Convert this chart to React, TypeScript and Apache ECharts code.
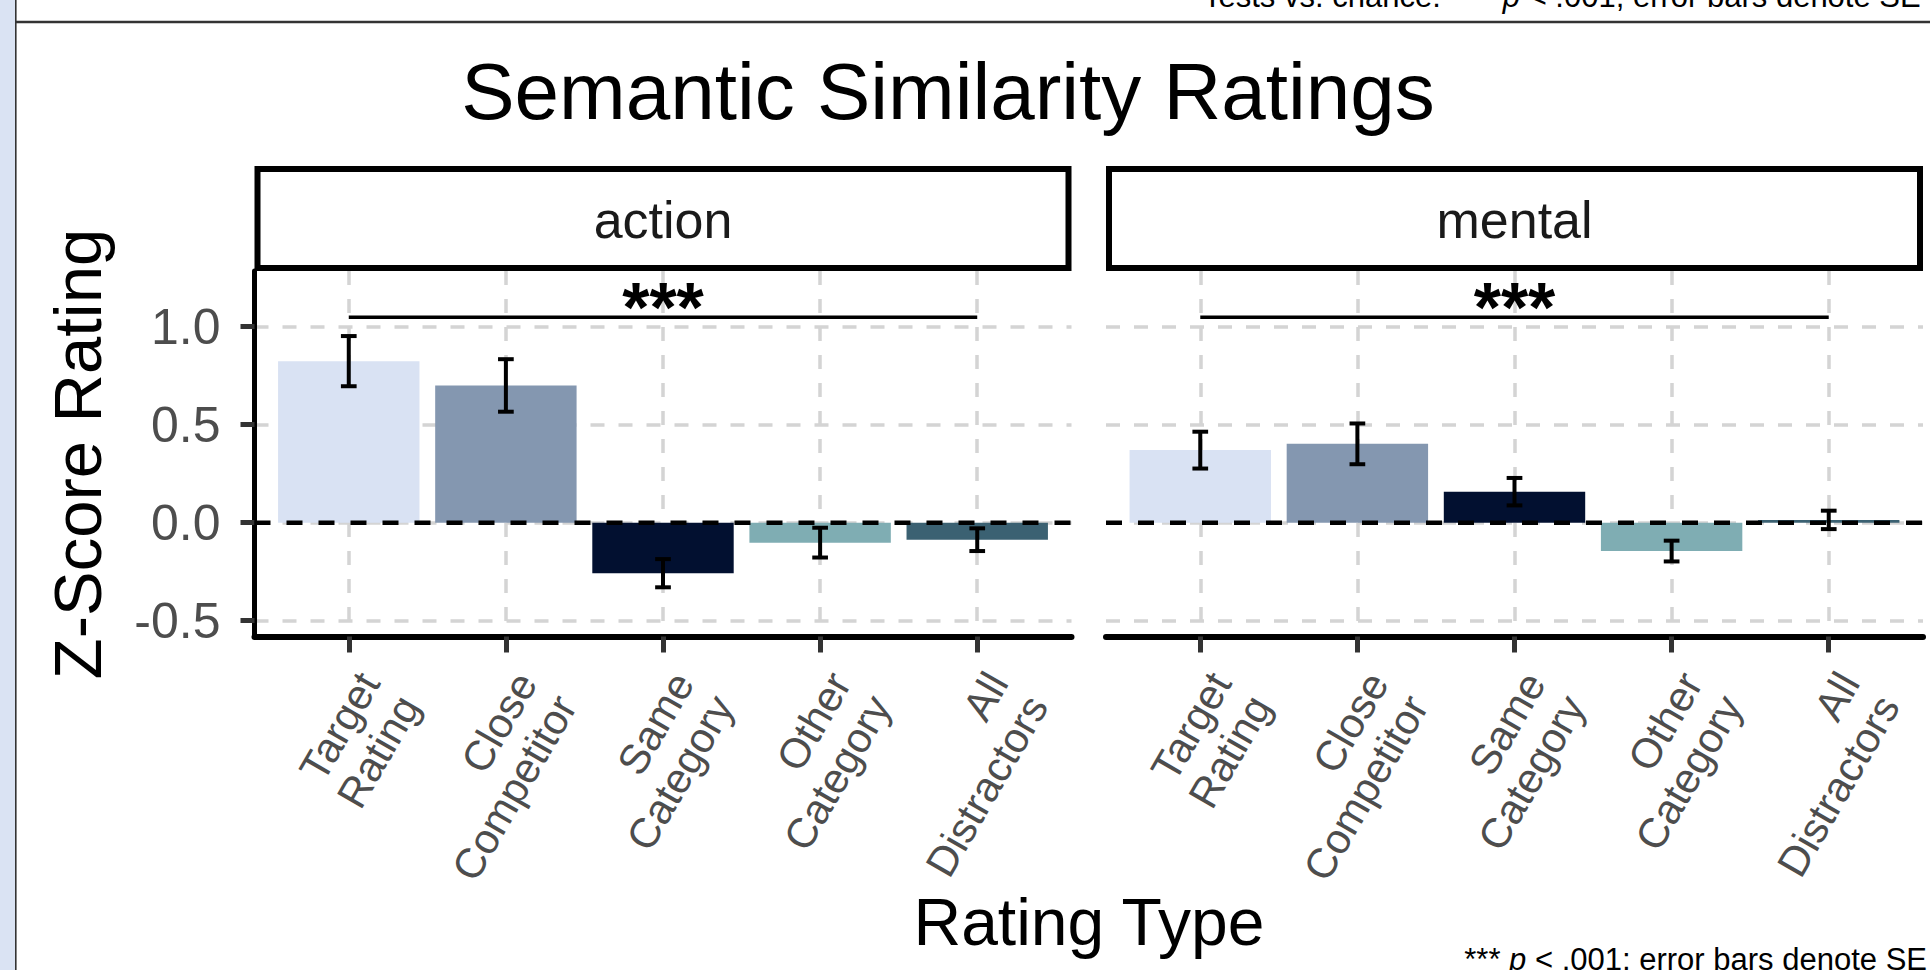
import React, { useEffect, useRef } from 'react';
import * as echarts from 'echarts';

// ---------------- data ----------------
const facets = ['action', 'mental'];
const categories = ['Target\nRating', 'Close\nCompetitor', 'Same\nCategory', 'Other\nCategory', 'All\nDistractors'];
const categoryPositions = [1, 2, 3, 4, 5];
const actionMeans = [0.824, 0.7, -0.258, -0.102, -0.087];
const actionSE = [0.128, 0.134, 0.072, 0.076, 0.058];
const mentalMeans = [0.37, 0.402, 0.158, -0.145, 0.014];
const mentalSE = [0.094, 0.104, 0.07, 0.053, 0.047];
const barColors = ['#D9E2F3', '#8497B0', '#021030', '#7FADB3', '#3B6172'];
const yTicks = [-0.5, 0, 0.5, 1.0];
const sigLabels = ['***', '***'];
const sigHeights = [1.048, 1.048];
const sigFrom = [1, 1];
const sigTo = [5, 5];

const titleText = 'Semantic Similarity Ratings';
const xTitleText = 'Rating Type';
const yTitleText = 'Z-Score Rating';
const captionParts = ['*** ', 'p', ' < .001; error bars denote SE'];
const topNoteParts = ['Tests vs. chance:  *** ', 'p', ' < .001; error bars denote SE'];

// ---------------- layout / style ----------------
const FONT = '"Liberation Sans", Arial, Helvetica, sans-serif';
const X_MIN = 0.4;
const X_MAX = 5.6;
const Y_MIN = -0.581;
const Y_MAX = 1.284;
const PANEL_LEFTS = [254.5, 1106];
const PANEL_W = 817;
const PANEL_TOP = 271;
const PANEL_H = 365.5;
const STRIP_TOP = 166;
const STRIP_BORDER = 6;
const BAR_HALF = 0.45;
const CAP_HALF = 0.05;
const GRID_COLOR = '#D4D4D4';

const facetMeans = [actionMeans, mentalMeans];
const facetSE = [actionSE, mentalSE];

function buildOption() {
  const grid = PANEL_LEFTS.map((l) => ({
    left: l,
    top: PANEL_TOP,
    width: PANEL_W,
    height: PANEL_H,
    containLabel: false,
    outerBoundsMode: 'none',
  }));

  const xAxis = facets.map((_, i) => ({
    type: 'value',
    gridIndex: i,
    min: X_MIN,
    max: X_MAX,
    axisLine: { show: true, onZero: false, lineStyle: { color: '#000', width: 6 } },
    axisTick: {
      show: true,
      customValues: categoryPositions,
      length: 16,
      lineStyle: { color: '#333', width: 5 },
    },
    axisLabel: {
      show: true,
      customValues: categoryPositions,
      formatter: (v: number) => categories[Math.round(v) - 1] ?? '',
      rotate: 60,
      fontSize: 42,
      lineHeight: 46,
      color: '#4D4D4D',
      fontFamily: FONT,
      align: 'right',
      verticalAlign: 'top',
      margin: 28,
    },
    splitLine: { show: true, lineStyle: { color: GRID_COLOR, width: 3.5, type: [14, 14] } },
  }));

  const yAxis = facets.map((_, i) => ({
    type: 'value',
    gridIndex: i,
    min: Y_MIN,
    max: Y_MAX,
    axisLine: { show: i === 0, onZero: false, lineStyle: { color: '#000', width: 5 } },
    axisTick: {
      show: i === 0,
      customValues: yTicks,
      length: 14,
      lineStyle: { color: '#333', width: 5 },
    },
    axisLabel: {
      show: i === 0,
      customValues: yTicks,
      formatter: (v: number) => v.toFixed(1),
      fontSize: 50,
      color: '#4D4D4D',
      fontFamily: FONT,
      margin: 34,
    },
    splitLine: { show: true, lineStyle: { color: GRID_COLOR, width: 3.5, type: [14, 14] } },
  }));

  const series: any[] = [];
  facets.forEach((_, i) => {
    const means = facetMeans[i];
    const ses = facetSE[i];
    series.push({
      type: 'custom',
      name: 'bars-' + i,
      xAxisIndex: i,
      yAxisIndex: i,
      z: 2,
      silent: true,
      data: means.map((m, j) => [categoryPositions[j], m]),
      renderItem: (params: any, api: any) => {
        const x = api.value(0);
        const y = api.value(1);
        const a = api.coord([x - BAR_HALF, y]);
        const b = api.coord([x + BAR_HALF, 0]);
        return {
          type: 'rect',
          shape: { x: a[0], y: Math.min(a[1], b[1]), width: b[0] - a[0], height: Math.abs(b[1] - a[1]) },
          style: { fill: barColors[params.dataIndex] },
        };
      },
    });
    series.push({
      type: 'custom',
      name: 'zero-' + i,
      xAxisIndex: i,
      yAxisIndex: i,
      z: 3,
      silent: true,
      data: [[X_MIN, 0]],
      renderItem: (params: any, api: any) => {
        const a = api.coord([X_MIN, 0]);
        const b = api.coord([X_MAX, 0]);
        return {
          type: 'line',
          shape: { x1: a[0], y1: a[1], x2: b[0], y2: b[1] },
          style: { stroke: '#000', lineWidth: 4.5, lineDash: [16, 16] },
        };
      },
    });
    series.push({
      type: 'custom',
      name: 'err-' + i,
      xAxisIndex: i,
      yAxisIndex: i,
      z: 4,
      silent: true,
      data: means.map((m, j) => [categoryPositions[j], m, ses[j]]),
      renderItem: (params: any, api: any) => {
        const x = api.value(0);
        const m = api.value(1);
        const se = api.value(2);
        const top = api.coord([x, m + se]);
        const bot = api.coord([x, m - se]);
        const l = api.coord([x - CAP_HALF, m])[0];
        const r = api.coord([x + CAP_HALF, m])[0];
        const st = { stroke: '#000', lineWidth: 4, fill: null };
        return {
          type: 'group',
          children: [
            { type: 'line', shape: { x1: top[0], y1: top[1], x2: bot[0], y2: bot[1] }, style: st },
            { type: 'line', shape: { x1: l, y1: top[1], x2: r, y2: top[1] }, style: st },
            { type: 'line', shape: { x1: l, y1: bot[1], x2: r, y2: bot[1] }, style: st },
          ],
        };
      },
    });
    series.push({
      type: 'custom',
      name: 'sig-' + i,
      xAxisIndex: i,
      yAxisIndex: i,
      z: 4,
      silent: true,
      data: [[sigFrom[i], sigTo[i], sigHeights[i]]],
      renderItem: (params: any, api: any) => {
        const a = api.coord([api.value(0), api.value(2)]);
        const b = api.coord([api.value(1), api.value(2)]);
        return {
          type: 'group',
          children: [
            {
              type: 'line',
              shape: { x1: a[0], y1: a[1], x2: b[0], y2: b[1] },
              style: { stroke: '#000', lineWidth: 3.5 },
            },
            {
              type: 'text',
              x: (a[0] + b[0]) / 2,
              y: a[1] - 9,
              style: {
                text: sigLabels[i],
                fontSize: 70,
                fontWeight: 'bold',
                fontFamily: FONT,
                fill: '#000',
                align: 'center',
                verticalAlign: 'middle',
              },
            },
          ],
        };
      },
    });
  });

  const stripElems: any[] = [];
  facets.forEach((f, i) => {
    const l = PANEL_LEFTS[i];
    stripElems.push({
      type: 'rect',
      shape: {
        x: l + STRIP_BORDER / 2,
        y: STRIP_TOP + STRIP_BORDER / 2,
        width: PANEL_W - STRIP_BORDER,
        height: PANEL_TOP - STRIP_TOP - STRIP_BORDER,
      },
      style: { fill: '#fff', stroke: '#000', lineWidth: STRIP_BORDER },
      silent: true,
      z: 5,
    });
    stripElems.push({
      type: 'text',
      x: l + PANEL_W / 2,
      y: 220,
      style: {
        text: f,
        fontSize: 52,
        fontFamily: FONT,
        fill: '#1A1A1A',
        align: 'center',
        verticalAlign: 'middle',
      },
      silent: true,
      z: 6,
    });
  });

  const richNote = (parts: string[], size: number) => ({
    text: `{a|${parts[0]}}{b|${parts[1]}}{a|${parts[2]}}`,
    rich: {
      a: { fontSize: size, fontFamily: FONT, fill: '#000', lineHeight: size },
      b: { fontSize: size, fontFamily: FONT, fontStyle: 'italic', fill: '#000', lineHeight: size },
    },
  });

  const graphic = [
    { type: 'rect', shape: { x: 0, y: 0, width: 15, height: 970 }, style: { fill: '#DAE3F3' }, silent: true },
    { type: 'line', shape: { x1: 15.8, y1: 0, x2: 15.8, y2: 970 }, style: { stroke: '#333', lineWidth: 1.6 }, silent: true },
    { type: 'line', shape: { x1: 16, y1: 22, x2: 1930, y2: 22 }, style: { stroke: '#333', lineWidth: 2.5 }, silent: true },
    {
      type: 'text',
      x: 1203,
      y: -3.7,
      style: { ...richNote(topNoteParts, 31), align: 'left', verticalAlign: 'middle' },
      silent: true,
    },
    {
      type: 'text',
      x: 948,
      y: 91.3,
      style: { text: titleText, fontSize: 80, fontFamily: FONT, fill: '#000', align: 'center', verticalAlign: 'middle' },
      silent: true,
    },
    ...stripElems,
    {
      type: 'text',
      x: 77,
      y: 454,
      rotation: Math.PI / 2,
      style: { text: yTitleText, fontSize: 67, fontFamily: FONT, fill: '#000', align: 'center', verticalAlign: 'middle' },
      silent: true,
    },
    {
      type: 'text',
      x: 1089,
      y: 922,
      style: { text: xTitleText, fontSize: 66, fontFamily: FONT, fill: '#000', align: 'center', verticalAlign: 'middle' },
      silent: true,
    },
    {
      type: 'text',
      x: 1927,
      y: 959.3,
      style: { ...richNote(captionParts, 31), align: 'right', verticalAlign: 'middle' },
      silent: true,
    },
  ];

  return {
    animation: false,
    backgroundColor: '#ffffff',
    grid,
    xAxis,
    yAxis,
    series,
    graphic: { elements: graphic },
  };
}

export default function App() {
  const ref = useRef<HTMLDivElement>(null);
  useEffect(() => {
    if (!ref.current) return;
    const chart = echarts.init(ref.current, null, { renderer: 'svg' });
    chart.setOption(buildOption() as any);
    return () => chart.dispose();
  }, []);
  return (
    <div
      ref={ref}
      style={{ position: 'fixed', left: 0, top: 0, width: 1930, height: 970, background: '#fff', overflow: 'hidden' }}
    />
  );
}
